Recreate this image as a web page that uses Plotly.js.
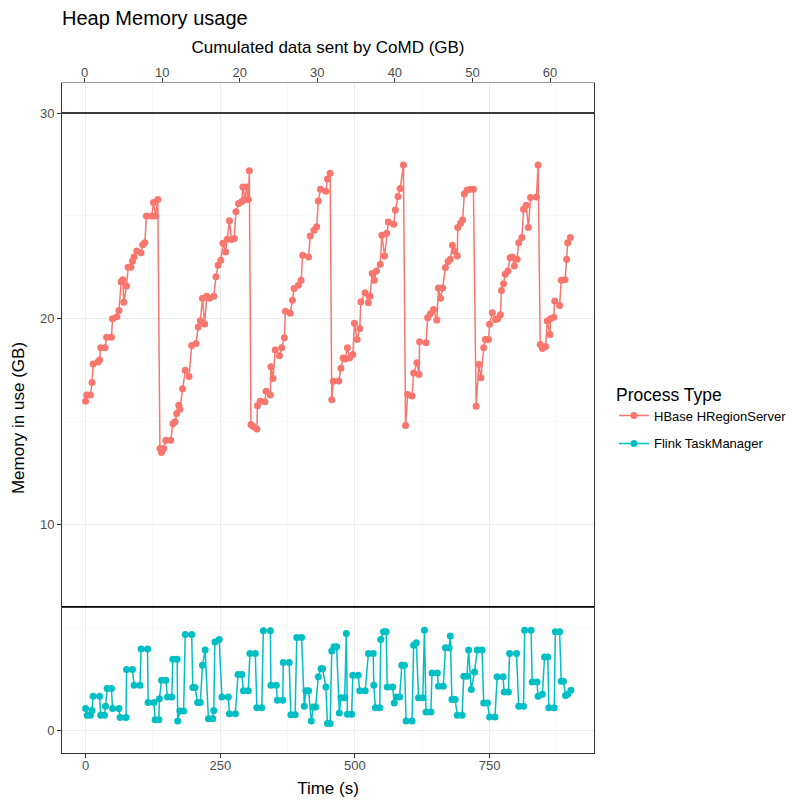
<!DOCTYPE html>
<html>
<head>
<meta charset="utf-8">
<script src="https://cdn.plot.ly/plotly-3.0.1.min.js"></script>
<style>html,body{margin:0;padding:0;background:#fff;}</style>
</head>
<body>
<div id="chart" style="width:797px;height:803px;"></div>
<script>
// ---- Data ----
const seriesNames = ['HBase HRegionServer', 'Flink TaskManager'];
const seriesColors = ['#F8766D', '#00BFC4'];

const hbaseTime = [0,2,9,12,14,23,26,28,36,39,48,50,58,62,66,69,71,76,79,84,87,90,95,103,106,110,113,123,126,130,134,
  138,141,145,149,158,162,166,169,173,175,180,185,192,197,205,209,213,217,221,225,230,238,242,246,251,255,260,263,267,271,276,279,284,290,292,296,299,302,304,
  307,311,318,319,324,333,335,343,344,348,352,360,364,369,371,380,384,387,395,400,403,414,417,424,429,432,436,446,449,454,
  457,460,470,474,478,482,486,490,496,499,504,509,511,519,525,528,532,536,540,547,550,555,559,562,572,575,580,584,590,
  594,598,606,609,615,619,620,632,635,640,646,652,655,659,663,668,673,677,681,685,690,691,696,700,703,708,714,720,
  725,730,734,739,742,748,750,755,761,765,770,772,776,779,784,788,792,796,801,804,810,813,818,822,826,837,840,
  844,848,854,857,862,863,869,871,880,883,890,893,895,900];
const hbaseMem = [16.0,16.3,16.3,16.9,17.8,17.9,18.0,18.6,18.6,19.1,19.1,20.0,20.1,20.4,21.8,21.9,20.8,21.6,22.5,22.5,22.8,23.0,23.3,23.2,23.6,23.7,25.0,25.0,25.65,25.0,25.8,
  13.7,13.5,13.7,14.1,14.1,14.9,15.0,15.4,15.8,15.6,16.6,17.5,17.2,18.7,18.8,19.6,19.9,21.0,19.75,21.1,21.0,21.1,22.05,22.6,22.85,23.67,23.25,23.87,24.76,23.85,23.9,25.2,25.6,25.7,26.4,25.8,26.4,25.8,27.2,
  14.86,14.77,14.65,15.78,16.0,15.97,16.48,16.3,17.67,17.1,18.48,18.2,18.6,19.08,20.37,20.27,20.9,21.47,21.63,21.87,23.09,23.0,24.03,24.3,24.48,25.73,26.3,26.2,26.8,27.07,
  16.07,16.97,16.98,17.6,18.1,18.05,18.59,18.1,18.27,19.78,19.0,19.53,20.83,21.27,20.78,21.1,22.2,21.88,22.32,22.65,24.06,23.05,24.16,24.7,24.6,25.29,25.94,26.33,27.47,
  14.82,16.32,16.25,17.37,17.86,17.3,18.88,18.84,20.05,20.25,20.45,19.94,21.5,21.0,21.5,22.49,22.78,22.9,23.57,23.3,23.05,24.44,24.65,24.8,26.06,26.25,26.3,26.3,
  15.75,17.78,17.13,18.59,18.99,19.0,19.73,20.3,19.97,20.0,20.2,21.38,21.7,22.16,22.32,22.97,23.0,22.57,22.9,23.7,23.95,25.33,25.52,24.44,25.9,25.92,27.47,
  18.75,18.56,18.65,19.89,19.24,20.0,20.08,20.86,20.65,21.88,21.9,22.9,23.7,23.95];

const flinkTime = [0,3,9,12,14,26,28,35,37,40,48,50,62,64,75,76,87,90,101,103,115,116,127,129,136,137,141,149,152,160,162,170,171,175,182,185,197,199,203,208,213,217,222,228,236,238,240,248,253,265,267,278,
  283,290,293,302,305,315,318,327,330,343,344,354,356,366,367,378,381,389,392,401,406,409,414,419,423,427,432,437,440,446,449,454,457,461,466,471,474,481,484,486,494,496,506,509,519,525,534,535,538,546,548,553,558,560,570,573,577,583,587,592,
  595,606,609,614,618,626,629,632,641,643,653,655,664,668,675,677,680,686,690,699,702,708,711,716,722,727,736,739,746,750,760,764,775,777,785,787,800,804,813,815,827,829,838,840,848,852,858,860,870,872,880,883,887,891,895,901];
const flinkMem = [1.06,0.73,0.73,0.97,1.66,1.66,0.73,0.73,1.17,2.03,2.03,1.06,1.06,0.62,0.62,2.96,2.96,2.19,2.19,3.96,3.96,1.35,1.35,0.52,0.52,1.54,2.44,2.44,1.62,1.62,3.46,3.46,0.45,0.94,0.94,4.66,4.66,2.08,2.08,1.35,1.35,3.17,3.9,0.57,0.57,0.97,4.3,4.42,1.62,1.62,0.81,0.81,
  2.72,2.72,1.92,1.92,3.73,3.73,1.1,1.1,4.84,4.84,2.19,2.19,1.46,1.46,3.3,3.3,0.76,0.76,4.51,4.51,1.17,1.92,1.92,0.45,1.14,1.14,2.6,3.0,3.0,2.11,0.33,0.33,3.86,4.06,4.06,0.84,1.59,1.59,4.71,0.78,0.78,2.68,2.68,1.92,1.92,3.73,3.73,2.19,1.1,1.1,4.42,4.79,4.79,2.11,2.11,1.33,1.62,1.62,3.17,3.17,
  0.45,0.45,4.14,4.26,1.59,1.59,4.87,0.89,0.89,2.79,2.79,2.14,2.14,4.01,4.01,4.59,1.5,1.5,0.73,0.73,2.63,2.63,3.9,1.98,2.84,3.9,3.9,1.33,1.33,0.65,0.65,2.6,2.6,1.87,1.87,3.73,3.73,1.17,1.17,4.87,4.87,2.35,2.35,1.66,1.75,3.57,3.57,1.1,1.1,4.79,4.79,2.39,2.39,1.7,1.75,1.95];

const timeTicks = [0, 250, 500, 750];
const memTicks = [0, 10, 20, 30];
const gbTicks = [0, 10, 20, 30, 40, 50, 60];
const hlines = [30, 6];

// ---- Plot ----
const FAM = 'Liberation Sans, Arial, sans-serif';
const tickFont = {family: FAM, size: 13, color: '#4D4D4D'};
const titleFont = {family: FAM, size: 17, color: '#000'};

const traces = [
  {x: hbaseTime, y: hbaseMem, name: seriesNames[0], type: 'scatter', mode: 'lines+markers',
   line: {color: seriesColors[0], width: 1.5}, marker: {color: seriesColors[0], size: 7}, legendgroup: 'a'},
  {x: flinkTime, y: flinkMem, name: seriesNames[1], type: 'scatter', mode: 'lines+markers',
   line: {color: seriesColors[1], width: 1.5}, marker: {color: seriesColors[1], size: 7}, legendgroup: 'b'},
  {x: gbTicks, y: gbTicks.map(() => null), xaxis: 'x2', yaxis: 'y', type: 'scatter', mode: 'markers',
   showlegend: false, hoverinfo: 'skip'}
];

const layout = {
  width: 797, height: 803,
  margin: {l: 62, r: 203, t: 83, b: 50, pad: 0, autoexpand: false},
  paper_bgcolor: '#fff', plot_bgcolor: '#fff',
  font: {family: FAM, color: '#000'},
  title: {text: 'Heap Memory usage', xref: 'container', x: 62/797, xanchor: 'left',
          yref: 'container', y: 1 - 18/803, yanchor: 'middle',
          font: {family: FAM, size: 20, color: '#000'}},
  xaxis: {range: [-43.8, 943.8], tickvals: timeTicks, ticks: 'outside', ticklen: 4, tickcolor: '#333', tickwidth: 1,
          tickfont: tickFont, ticklabelstandoff: -4, showgrid: true, gridcolor: '#EBEBEB', gridwidth: 1.1,
          minor: {dtick: 125, tick0: 0, showgrid: true, gridcolor: '#F3F3F3', gridwidth: 0.6},
          zeroline: false, showline: true, linecolor: '#333', linewidth: 1, mirror: false,
          title: {text: 'Time (s)', font: titleFont, standoff: 10}},
  xaxis2: {overlaying: 'x', side: 'top', anchor: 'y', range: [-2.91, 65.67], tickvals: gbTicks,
           ticks: 'outside', ticklen: 4, tickcolor: '#333', tickwidth: 1, tickfont: tickFont, ticklabelstandoff: -4,
           showgrid: false, zeroline: false, showline: true, linecolor: '#999', linewidth: 1,
           title: {text: 'Cumulated data sent by CoMD (GB)', font: titleFont, standoff: 6}},
  yaxis: {range: [-1.10, 31.46], tickvals: memTicks, ticks: 'outside', ticklen: 4, tickcolor: '#333', tickwidth: 1,
          tickfont: tickFont, showgrid: true, gridcolor: '#EBEBEB', gridwidth: 1.1,
          minor: {dtick: 5, tick0: 0, showgrid: true, gridcolor: '#F3F3F3', gridwidth: 0.6},
          zeroline: false, showline: true, linecolor: '#333', linewidth: 1, mirror: true,
          title: {text: 'Memory in use (GB)', font: titleFont, standoff: 10}},
  shapes: hlines.map(v => ({type: 'line', xref: 'paper', x0: 0, x1: 1, yref: 'y', y0: v, y1: v,
                            line: {color: '#000', width: 1.6}, layer: 'above'})),
  legend: {xref: 'container', x: 614/797, y: 0.56, xanchor: 'left', yanchor: 'top', bgcolor: 'rgba(0,0,0,0)',
           title: {text: 'Process Type', font: {family: FAM, size: 17.5, color: '#000'}},
           font: {family: FAM, size: 13, color: '#000'},
           itemwidth: 30, tracegroupgap: 8},
  showlegend: true
};

Plotly.newPlot('chart', traces, layout, {staticPlot: true, displayModeBar: false});
</script>
</body>
</html>
